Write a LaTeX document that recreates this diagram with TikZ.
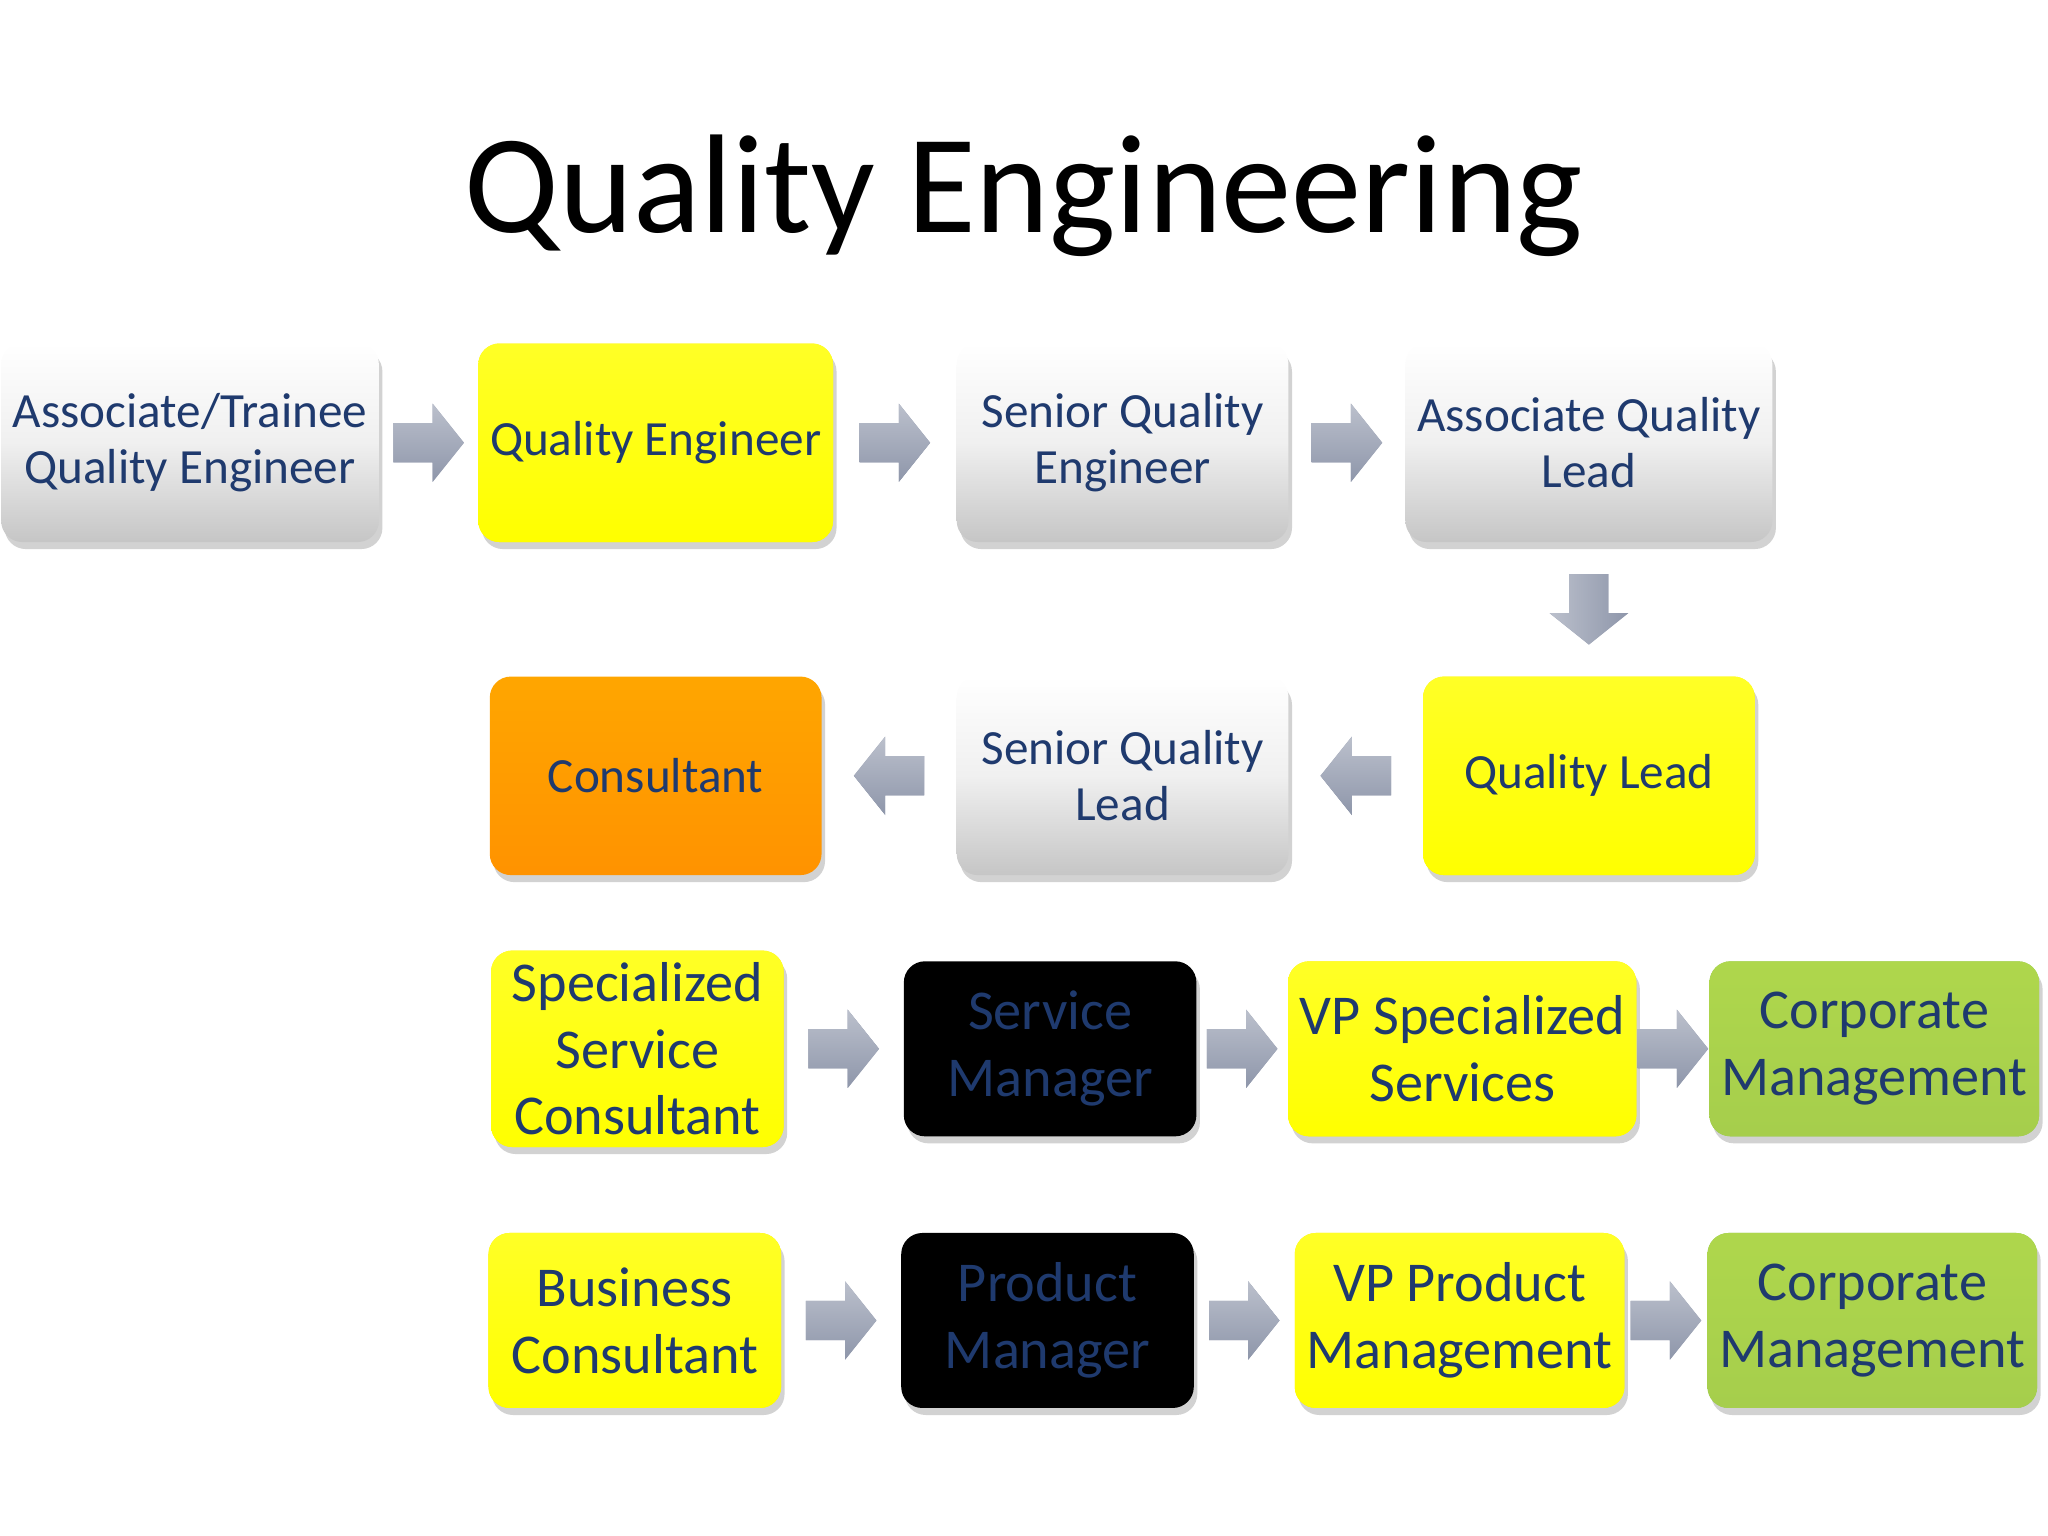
\documentclass[tikz,border=0pt]{standalone}
\usepackage{fontspec}
\setmainfont{Carlito}
\usetikzlibrary{shadows,calc}
\definecolor{txt}{HTML}{1F3A6E}
\definecolor{arr}{HTML}{8E96AA}
\begin{document}
\begin{tikzpicture}[x=0.013061cm,y=-0.013061cm,
  box/.style={rounded corners=6pt,minimum width=254*0.013061cm,minimum height=152*0.013061cm,
    align=center,text=txt,font=\fontsize{14}{16}\selectfont,draw=none,
    drop shadow={shadow xshift=1pt,shadow yshift=-2pt,opacity=0.35}},
  sbox/.style={box,minimum width=224*0.013061cm,minimum height=134*0.013061cm,font=\fontsize{16}{19}\selectfont},
  gray/.style={top color=white,bottom color=gray!45,middle color=gray!12},
  yel/.style={top color=yellow!85!white,bottom color=yellow,fill=yellow},
  org/.style={top color=orange!70!yellow,bottom color=orange!85!yellow},
  blk/.style={fill=black},
  grn/.style={top color=green!50!black!45!yellow!70,bottom color=green!45!black!50!yellow!70,fill={rgb,255:red,140;green,200;blue,80}},
  pics/rarr/.style={code={\fill[arr,top color=arr!60,bottom color=arr] (-27,-15)--(3,-15)--(3,-30)--(27,0)--(3,30)--(3,15)--(-27,15)--cycle;}},
  pics/larr/.style={code={\fill[arr,top color=arr!60,bottom color=arr] (27,-15)--(-3,-15)--(-3,-30)--(-27,0)--(-3,30)--(-3,15)--(27,15)--cycle;}},
  pics/darr/.style={code={\fill[arr,left color=arr!60,right color=arr] (-15,-27)--(-15,3)--(-30,3)--(0,27)--(30,3)--(15,3)--(15,-27)--cycle;}}
]
\useasboundingbox (0,0) rectangle (1568,1176);
\fill[white] (0,0) rectangle (1568,1176);
\node[font=\fontsize{40}{46}\selectfont] (title) at (784,150) {Quality Engineering};
\node[box,gray] (a1) at (145.5,339) {Associate/Trainee\\Quality Engineer};
\node[box,yel] (a2) at (502,339) {Quality Engineer};
\node[box,gray] (a3) at (859.5,339) {Senior Quality\\Engineer};
\node[box,gray] (a4) at (1216.5,339) {Associate Quality\\Lead};
\node[box,org] (b1) at (502,594) {Consultant};
\node[box,gray] (b2) at (859.5,594) {Senior Quality\\Lead};
\node[box,yel] (b3) at (1216.5,594) {Quality Lead};
\node[sbox,yel] (c1) at (488,803) {Specialized\\Service\\Consultant};
\node[sbox,blk] (c2) at (804,803) {Service\\Manager};
\node[sbox,yel] (c3) at (1119.5,803) {VP Specialized\\Services};
\node[sbox,grn] (c4) at (1435,803) {Corporate\\Management};
\node[sbox,yel] (d1) at (486,1011) {Business\\Consultant};
\node[sbox,blk] (d2) at (802,1011) {Product\\Manager};
\node[sbox,yel] (d3) at (1117.5,1011) {VP Product\\Management};
\node[sbox,grn] (d4) at (1433.5,1011) {Corporate\\Management};
\foreach \p/\q in {a1/a2,a2/a3,a3/a4,c1/c2,c2/c3,c3/c4,d1/d2,d2/d3,d3/d4}
  \pic at ($(\p.east)!0.5!(\q.west)$) {rarr};
\foreach \p/\q in {b3/b2,b2/b1}
  \pic at ($(\p.west)!0.5!(\q.east)$) {larr};
\pic at ($(a4.south)!0.5!(b3.north)$) {darr};
\end{tikzpicture}
\end{document}
